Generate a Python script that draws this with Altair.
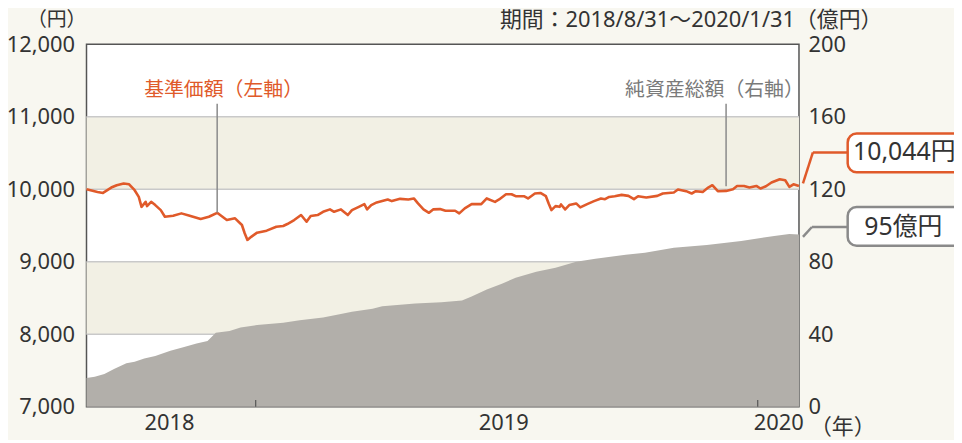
import altair as alt
import pandas as pd

# ---------------- data ----------------
start = pd.Timestamp("2018-08-31")

# 基準価額 (円) : days since 2018/8/31 and value
nav_day = [0, 8, 12, 18, 22, 27, 31, 35, 38, 40,
           43, 44, 47, 50, 54, 57, 63, 69, 75, 83,
           89, 95, 102, 108, 113, 115, 117, 120, 124, 131,
           138, 143, 146, 151, 156, 160, 163, 168, 172, 177,
           180, 185, 190, 193, 198, 202, 204, 207, 211, 219,
           222, 228, 234, 238, 241, 245, 249, 252, 257, 261,
           268, 271, 275, 280, 287, 291, 297, 300, 305, 309,
           312, 318, 321, 326, 330, 334, 336, 338, 341, 344,
           345, 348, 351, 356, 359, 364, 369, 374, 377, 380,
           384, 389, 394, 398, 401, 407, 415, 419, 427, 430,
           436, 440, 443, 448, 452, 455, 459, 465, 470, 473,
           478, 482, 487, 490, 494, 498, 504, 508, 511, 514,
           518]
nav_value = [10000, 9963, 9949, 10023, 10055, 10078, 10068, 9986, 9894, 9757,
             9826, 9767, 9826, 9781, 9712, 9620, 9634, 9667, 9634, 9589,
             9620, 9675, 9575, 9599, 9507, 9393, 9301, 9347, 9401, 9429,
             9483, 9493, 9520, 9575, 9644, 9552, 9630, 9644, 9689, 9722,
             9689, 9722, 9644, 9712, 9757, 9794, 9722, 9781, 9818, 9859,
             9836, 9867, 9859, 9873, 9804, 9722, 9675, 9722, 9726, 9703,
             9703, 9667, 9736, 9794, 9794, 9873, 9826, 9859, 9931, 9931,
             9904, 9904, 9873, 9941, 9949, 9904, 9804, 9712, 9767, 9757,
             9790, 9722, 9781, 9804, 9749, 9794, 9836, 9873, 9863, 9894,
             9904, 9922, 9908, 9863, 9904, 9886, 9908, 9941, 9955, 9996,
             9973, 9941, 9973, 9963, 10023, 10055, 9973, 9977, 10000, 10045,
             10045, 10023, 10045, 10010, 10041, 10092, 10137, 10123, 10032, 10068,
             10044]

# 純資産総額 (億円)
aum_day = [0, 6, 13, 20, 29, 35, 42, 50, 61, 71,
           80, 88, 94, 104, 112, 124, 143, 155, 172, 184,
           193, 208, 215, 239, 258, 273, 280, 291, 302, 312,
           327, 341, 356, 370, 392, 406, 427, 451, 476, 500,
           511, 518]
aum_value = [15.9, 16.6, 18.1, 20.8, 24.1, 24.8, 26.7, 28.1, 30.9, 33.0,
             34.9, 36.3, 40.9, 41.8, 43.7, 45.1, 46.4, 47.8, 49.2, 51.0,
             52.4, 54.1, 55.5, 57.0, 57.7, 58.6, 60.8, 64.7, 67.9, 71.2,
             74.5, 76.7, 80.0, 81.6, 83.8, 84.9, 87.7, 89.3, 91.5, 94.2,
             95.3, 95.0]

left_ticks = [7000, 8000, 9000, 10000, 11000, 12000]
right_ticks = [0, 40, 80, 120, 160, 200]
grid_values = [8000, 9000, 10000, 11000]
band_lo = [8000, 10000]
band_hi = [9000, 11000]
year_tick_dates = ["2019-01-01", "2020-01-01"]
year_label_dates = [alt.DateTime(year=2018, month=10, date=30, utc=True),
                    alt.DateTime(year=2019, month=6, date=30, utc=True),
                    alt.DateTime(year=2020, month=1, date=16, utc=True)]
nav_leader_day = 95
aum_leader_day = 465


def to_dates(days):
    return [(start + pd.Timedelta(days=int(d))).strftime("%Y-%m-%d") for d in days]


nav_df = pd.DataFrame({"date": to_dates(nav_day), "v": nav_value})
aum_df = pd.DataFrame({"date": to_dates(aum_day), "v": aum_value})
grid_df = pd.DataFrame({"v": grid_values})
band_df = pd.DataFrame({"lo": band_lo, "hi": band_hi})
ytick_df = pd.DataFrame({"date": year_tick_dates})
nav_leader_df = pd.DataFrame({"date": to_dates([nav_leader_day]),
                              "v": [nav_value[nav_day.index(nav_leader_day)]]})
aum_leader_df = pd.DataFrame({"date": to_dates([aum_leader_day])})

# ---------------- style ----------------
W, H = 717, 365
FONT = "'Noto Sans', 'Noto Sans CJK JP'"
CJK = "'Noto Sans CJK JP'"
ORANGE = "#e05a2a"
GRAY_AREA = "#b2afaa"
BAND = "#f2f0e4"
BG = "#f8f7f0"
TXT = "#333333"
LEADER = "#8a8a8a"

left_scale = alt.Scale(domain=[7000, 12000], nice=False, zero=False)
right_scale = alt.Scale(domain=[0, 200], nice=False)
x_scale = alt.Scale(domain=[alt.DateTime(year=2018, month=8, date=31, utc=True),
                            alt.DateTime(year=2020, month=1, date=31, utc=True)])
x_axis = alt.Axis(values=year_label_dates, format="%Y", ticks=False, domain=False,
                  grid=False, labelFontSize=22, labelColor=TXT, labelFont=FONT,
                  labelPadding=6, labelFlush=False, labelOverlap=False, title=None)
X = alt.X("date:T", scale=x_scale, axis=x_axis)

bands = alt.Chart(band_df).mark_rect(color=BAND).encode(
    x=alt.value(0), x2=alt.value(W),
    y=alt.Y("lo:Q", scale=left_scale, axis=None), y2="hi:Q")

grid = alt.Chart(grid_df).mark_rule(color="#c9c9c9", strokeWidth=1.5).encode(
    y=alt.Y("v:Q", scale=left_scale, axis=None))

area = alt.Chart(aum_df).mark_area(color=GRAY_AREA, opacity=1).encode(
    x=X,
    y=alt.Y("v:Q", scale=right_scale,
            axis=alt.Axis(orient="right", values=right_ticks, format=".0f", ticks=False,
                          domain=False, grid=False, labelFontSize=22, labelColor=TXT,
                          labelFont=FONT, labelPadding=9, title=None)))

line = alt.Chart(nav_df).mark_line(color=ORANGE, strokeWidth=2.6, strokeJoin="round").encode(
    x=X,
    y=alt.Y("v:Q", scale=left_scale,
            axis=alt.Axis(orient="left", values=left_ticks, format=",.0f", ticks=False,
                          domain=False, grid=False, labelFontSize=22, labelColor=TXT,
                          labelFont=FONT, labelPadding=12, title=None)))

year_ticks = alt.Chart(ytick_df).mark_rule(color="#555555", strokeWidth=1.2).encode(
    x=X, y=alt.value(H - 7), y2=alt.value(H))

nav_leader = alt.Chart(nav_leader_df).mark_rule(color=LEADER, strokeWidth=1.5).encode(
    x=X, y=alt.Y("v:Q", scale=left_scale, axis=None), y2=alt.value(60))

aum_leader = alt.Chart(aum_leader_df).mark_rule(color=LEADER, strokeWidth=1.5).encode(
    x=X, y=alt.value(60), y2=alt.value(143))


def label(text, x, y, size, color=TXT, align="left", font=FONT):
    return alt.Chart(pd.DataFrame({"t": [text]})).mark_text(
        font=font, fontSize=size, color=color, align=align, baseline="middle").encode(
        x=alt.value(x), y=alt.value(y), text="t:N")


def seg(x1, y1, x2, y2, color):
    return alt.Chart(pd.DataFrame({"k": [0]})).mark_rule(color=color, strokeWidth=2.5).encode(
        x=alt.value(x1), y=alt.value(y1), x2=alt.value(x2), y2=alt.value(y2))


def box(x1, y1, x2, y2, color):
    return alt.Chart(pd.DataFrame({"k": [0]})).mark_rect(
        fill="white", stroke=color, strokeWidth=2.5, cornerRadius=9).encode(
        x=alt.value(x1), y=alt.value(y1), x2=alt.value(x2), y2=alt.value(y2))


nav_last = f"{nav_value[-1]:,}円"
aum_last = f"{aum_value[-1]:.0f}億円"

annotations = [
    label("基準価額（左軸）", 58, 46, 20, ORANGE, font=CJK),
    label("純資産総額（右軸）", 542, 46, 20, "#7a7a7a", font=CJK),
    label("（円）", -60, -24, 20),
    label("期間：2018/8/31～2020/1/31（億円）", 801, -24, 22, align="right"),
    label("（年）", 728, 385, 22),
    seg(721, 140, 731, 109, ORANGE),
    seg(731, 109, 766, 109, ORANGE),
    seg(721, 194, 730, 184, "#8a8a8a"),
    seg(730, 184, 766, 184, "#8a8a8a"),
    box(766, 90, 885, 129, ORANGE),
    box(766, 164, 885, 203, "#8a8a8a"),
    label(nav_last, 823, 109, 25, TXT, "center"),
    label(aum_last, 822, 184, 25, TXT, "center"),
]

chart = alt.layer(
    bands, grid, area, line, year_ticks, nav_leader, aum_leader, *annotations
).resolve_scale(y="independent").properties(
    width=W, height=H,
    autosize=alt.AutoSizeParams(type="none"),
    padding={"left": 79, "top": 35, "right": 156, "bottom": 32},
    background=BG,
).configure_view(fill="white", stroke="#555555", strokeWidth=1.5)

chart.save("out.html", embed_options={"renderer": "svg", "actions": False})
